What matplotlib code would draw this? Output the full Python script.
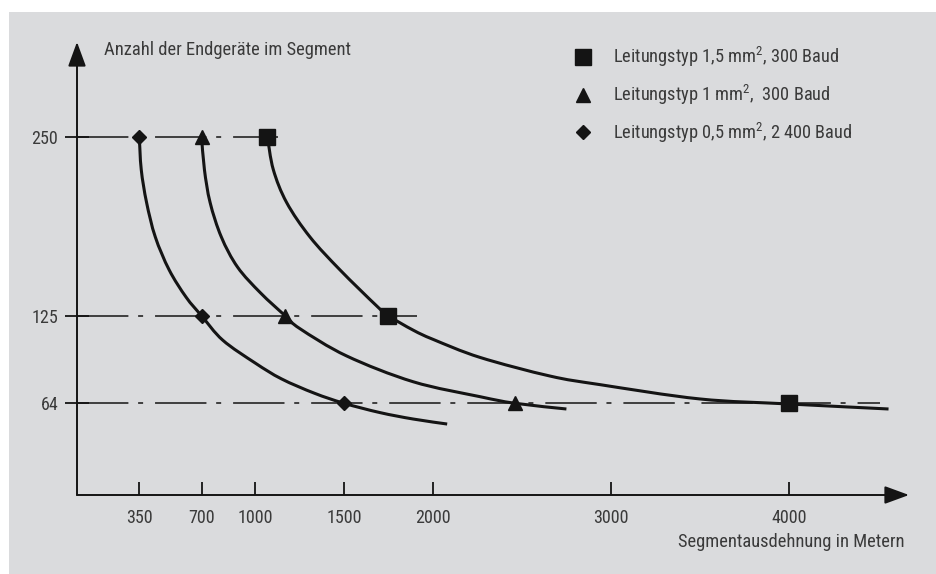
import matplotlib
matplotlib.use('Agg')
import matplotlib.pyplot as plt
from matplotlib.patches import Rectangle, PathPatch
from matplotlib.lines import Line2D
from matplotlib.path import Path

plt.rcParams['font.family'] = ['Roboto Condensed', 'Roboto', 'DejaVu Sans']
plt.rcParams['mathtext.fontset'] = 'custom'
plt.rcParams['mathtext.rm'] = 'Roboto Condensed'
plt.rcParams['mathtext.it'] = 'Roboto Condensed'
plt.rcParams['lines.scale_dashes'] = False

# Stützpunkte (Markierungen)
y_stufen = [250, 125, 64]
x_05 = [350, 700, 1500]     # 0,5 mm2, 2400 Baud (Raute)
x_10 = [700, 1170, 2460]    # 1 mm2, 300 Baud (Dreieck)
x_15 = [1070, 1750, 4000]   # 1,5 mm2, 300 Baud (Quadrat)

# Kurvenverlauf
k05_x = [350, 361, 391, 440, 518, 613, 700, 819, 1002, 1149, 1334, 1500, 1702, 1889, 2080]
k05_y = [250, 227, 204, 180, 157, 138, 125, 108, 92, 81, 71, 64, 57.5, 53, 49.5]
k10_x = [700, 716, 748, 811, 902, 1031, 1170, 1253, 1515, 1889, 2264, 2460, 2750]
k10_y = [250, 227, 204, 180, 159, 141, 125, 116, 97, 79, 68.6, 64, 60]
k15_x = [1070, 1103, 1178, 1309, 1478, 1683, 1750, 1889, 2002, 2264, 2657, 2938, 3500, 4000, 4560]
k15_y = [250, 227, 204, 180, 157, 132, 125, 115, 108.5, 96, 83, 77, 67, 63.5, 60]

# Hilfslinien (strichpunktiert) bis zu diesen x-Werten
hilfs_ende = [1130, 1910, 4510]

x_ticks = [350, 700, 1000, 1500, 2000, 3000, 4000]
y_ticks = [64, 125, 250]

labels = ['Leitungstyp 1,5 mm$^2$, 300 Baud',
          'Leitungstyp 1 mm$^2$,  300 Baud',
          'Leitungstyp 0,5 mm$^2$, 2 400 Baud']

txt = '#3a3a3a'
ink = '#141414'


def glatt(xs, ys):
    p = list(zip(xs, ys))
    verts, codes = [p[0]], [Path.MOVETO]
    for i in range(len(p) - 1):
        p0 = p[i - 1] if i > 0 else p[i]
        p1, p2 = p[i], p[i + 1]
        p3 = p[i + 2] if i + 2 < len(p) else p[i + 1]
        c1 = (p1[0] + (p2[0] - p0[0]) / 6, p1[1] + (p2[1] - p0[1]) / 6)
        c2 = (p2[0] - (p3[0] - p1[0]) / 6, p2[1] - (p3[1] - p1[1]) / 6)
        verts += [c1, c2, p2]
        codes += [Path.CURVE4] * 3
    return Path(verts, codes)


fig = plt.figure(figsize=(9.36, 5.74), dpi=100)
fig.patches.append(Rectangle((9/936, 0), 927/936, 562/574, transform=fig.transFigure,
                             facecolor='#dadbdd', edgecolor='none', zorder=-10))

W, H = 936, 574
ax = fig.add_axes([77/W, (H-495)/H, (909-77)/W, (495-42)/H])
ax.patch.set_visible(False)
xmax, ymax = 4675, 316
ax.set_xlim(0, xmax)
ax.set_ylim(0, ymax)
for s in ax.spines.values():
    s.set_visible(False)

# Achsen mit Pfeilspitzen
pf = dict(arrowstyle='-|>,head_length=1.5,head_width=0.55', mutation_scale=10,
          color=ink, lw=1.4, shrinkA=0, shrinkB=0)
ax.annotate('', xy=(xmax, 0), xytext=(0, 0), arrowprops=pf, annotation_clip=False)
ax.annotate('', xy=(0, ymax), xytext=(0, 0), arrowprops=pf, annotation_clip=False)

# strichpunktierte Linien
for yv, xe in zip(y_stufen, hilfs_ende):
    ax.plot([0, xe], [yv, yv], color=ink, lw=1.1, dashes=(37, 7, 3.6, 8.6), zorder=2)

# Kurven
for kx, ky in [(k05_x, k05_y), (k10_x, k10_y), (k15_x, k15_y)]:
    ax.add_patch(PathPatch(glatt(kx, ky), fill=False, edgecolor=ink, lw=2.2,
                           capstyle='butt', zorder=3))

ax.plot(x_05, y_stufen, 'D', color=ink, ms=7.2, zorder=4)
ax.plot(x_10, y_stufen, '^', color=ink, ms=10, zorder=4)
ax.plot(x_15, y_stufen, 's', color=ink, ms=11.5, zorder=4)

ax.set_xticks(x_ticks)
ax.set_yticks(y_ticks)
ax.tick_params(axis='x', direction='in', length=9.5, width=1.3, color=ink,
               labelsize=13, labelcolor=txt, pad=10)
ax.tick_params(axis='y', direction='inout', length=17, width=1.3, color=ink,
               labelsize=13, labelcolor=txt, pad=5)

fig.text(104/W, 1 - 50/H, 'Anzahl der Endgeräte im Segment', fontsize=13.3,
         color=txt, ha='left', va='center')
fig.text(905/W, 1 - 542/H, 'Segmentausdehnung in Metern', fontsize=13.3,
         color=txt, ha='right', va='center')

handles = [Line2D([], [], ls='none', marker='s', ms=11.5, color=ink),
           Line2D([], [], ls='none', marker='^', ms=10, color=ink),
           Line2D([], [], ls='none', marker='D', ms=7.2, color=ink)]
leg = fig.legend(handles, labels, loc='upper left', bbox_to_anchor=(574/W, 1 - 45/H),
                 frameon=False, fontsize=13.2, handlelength=1.0, handletextpad=1.13,
                 labelspacing=0.75, borderpad=0, borderaxespad=0)
for t in leg.get_texts():
    t.set_color(txt)

fig.savefig('out.png', dpi=100)
